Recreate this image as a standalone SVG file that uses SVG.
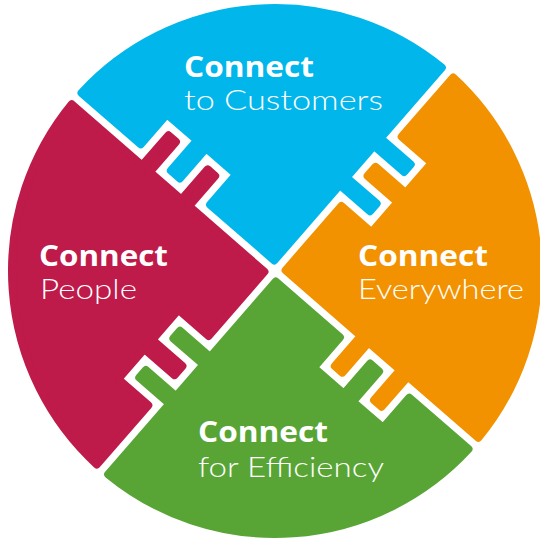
<svg xmlns="http://www.w3.org/2000/svg" xmlns:xlink="http://www.w3.org/1999/xlink" width="540" height="544" viewBox="0 0 540 544">
  <style>
    .piece { stroke-width: 8; stroke-linejoin: round; }
    .blue { fill: #00B6EA; stroke: #00B6EA; }
    .red { fill: #BE1A4A; stroke: #BE1A4A; }
    .orange { fill: #F29200; stroke: #F29200; }
    .green { fill: #58A535; stroke: #58A535; }
    .title { font-family: "Open Sans", "Liberation Sans", sans-serif; font-weight: 700; font-size: 29px; fill: #FFFFFF; }
    .sub { font-family: Lato, "Open Sans", "Liberation Sans", sans-serif; font-weight: 300; font-size: 28px; fill: #FFFFFF; }
  </style>
  <defs>
    <path id="piece" d="M7.5,7.5 H92.5 V47.5 H132.5 V7.5 H144.5 V47.5 H184.5 V7.5 H262.89 A263,263 0 0 1 7.5,262.89 V169.5 H-32.5 V159.5 H7.5 V117.5 H-32.5 V107.5 H7.5 Z"/>
  </defs>
  <rect width="540" height="544" fill="#FFFFFF"/>
  <g id="customers">
    <use xlink:href="#piece" class="piece blue" transform="translate(275,271) rotate(221)"/>
    <text class="title" x="184" y="77" textLength="130" lengthAdjust="spacingAndGlyphs">Connect</text>
    <text class="sub" x="184" y="110" textLength="199" lengthAdjust="spacingAndGlyphs">to Customers</text>
  </g>
  <g id="everywhere">
    <use xlink:href="#piece" class="piece orange" transform="translate(275,271) rotate(311)"/>
    <text class="title" x="358" y="266" textLength="130" lengthAdjust="spacingAndGlyphs">Connect</text>
    <text class="sub" x="358" y="299" textLength="166" lengthAdjust="spacingAndGlyphs">Everywhere</text>
  </g>
  <g id="efficiency">
    <use xlink:href="#piece" class="piece green" transform="translate(275,271) rotate(41)"/>
    <text class="title" x="198" y="442" textLength="130" lengthAdjust="spacingAndGlyphs">Connect</text>
    <text class="sub" x="198" y="477" textLength="186" lengthAdjust="spacingAndGlyphs">for Efficiency</text>
  </g>
  <g id="people">
    <use xlink:href="#piece" class="piece red" transform="translate(275,271) rotate(131)"/>
    <text class="title" x="39" y="266" textLength="129" lengthAdjust="spacingAndGlyphs">Connect</text>
    <text class="sub" x="40" y="299" textLength="97" lengthAdjust="spacingAndGlyphs">People</text>
  </g>
</svg>
